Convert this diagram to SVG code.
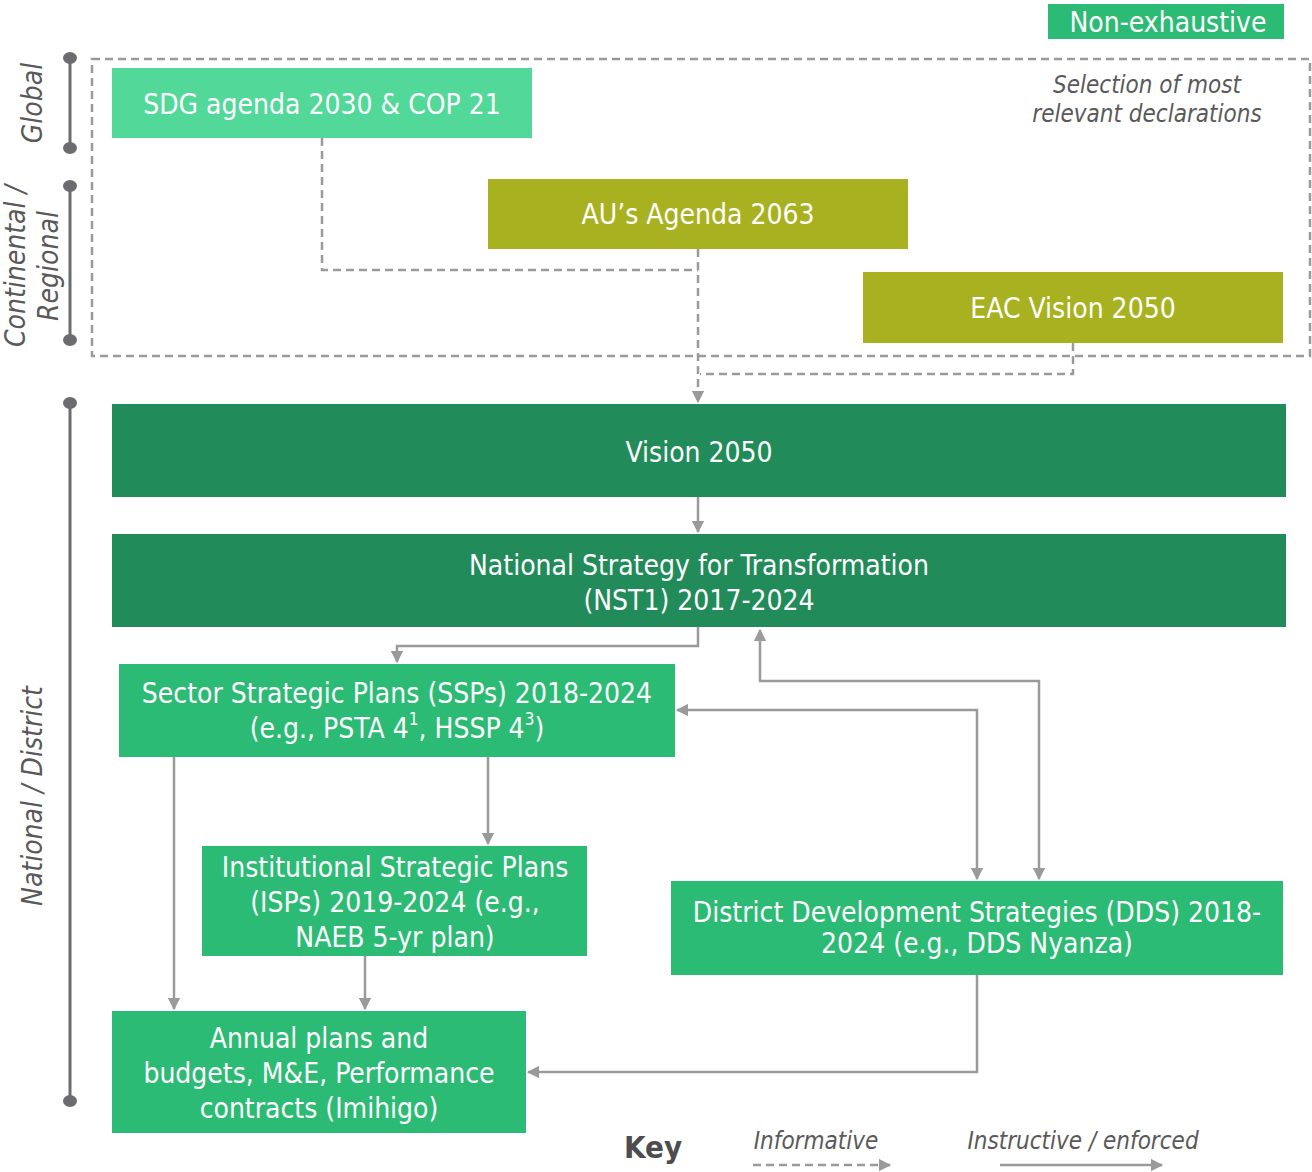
<svg xmlns="http://www.w3.org/2000/svg" width="1312" height="1172" viewBox="0 0 1312 1172">
<style>
.t{font-family:"DejaVu Sans Condensed","Open Sans",sans-serif;fill:#fff;font-size:28px;text-anchor:middle;dominant-baseline:central}
.g{font-family:"DejaVu Sans Condensed","Open Sans",sans-serif;fill:#595959;font-style:italic;text-anchor:middle;dominant-baseline:central}
.ax{stroke:#6b6b70;stroke-width:3;fill:none}
.dot{fill:#6b6b70}
.c{stroke:#9a9a9a;stroke-width:2.5;fill:none}
.d{stroke:#9a9a9a;stroke-width:2.5;fill:none;stroke-dasharray:8 5}
.lg{fill:#52d898}.ol{fill:#a8b220}.dg{fill:#218b59}.mg{fill:#2cbb74}
</style>
<defs>
<marker id="a" viewBox="0 0 10 10" refX="9" refY="5" markerWidth="5" markerHeight="5" orient="auto-start-reverse" markerUnits="strokeWidth">
<path d="M0,0L10,5L0,10z" fill="#9a9a9a"/>
</marker>
</defs>
<g id="axis">
<line class="ax" x1="70" y1="58" x2="70" y2="148"/>
<ellipse class="dot" cx="70" cy="58" rx="7" ry="6"/><ellipse class="dot" cx="70" cy="148" rx="7" ry="6"/>
<line class="ax" x1="70" y1="186" x2="70" y2="340"/>
<ellipse class="dot" cx="70" cy="186" rx="7" ry="6"/><ellipse class="dot" cx="70" cy="340" rx="7" ry="6"/>
<line class="ax" x1="70" y1="403" x2="70" y2="1101"/>
<ellipse class="dot" cx="70" cy="403" rx="7" ry="6"/><ellipse class="dot" cx="70" cy="1101" rx="7" ry="6"/>
<text class="g" font-size="28" transform="translate(32,103) rotate(-90)">Global</text>
<text class="g" font-size="28" transform="translate(15,266) rotate(-90)">Continental /</text>
<text class="g" font-size="28" transform="translate(48,266) rotate(-90)">Regional</text>
<text class="g" font-size="28" transform="translate(32,796) rotate(-90)">National / District</text>
</g>
<g id="scope">
<rect x="92" y="59" width="1218" height="297" class="d"/>
<text class="g" font-size="24" x="1147" y="85">Selection of most</text>
<text class="g" font-size="24" x="1147" y="114">relevant declarations</text>
</g>
<g id="nonexhaustive">
<rect x="1048" y="4" width="236" height="35" class="mg"/>
<text class="t" font-size="29" x="1168" y="22">Non-exhaustive</text>
</g>
<g id="connectors">
<path class="d" d="M322,138V270H698"/>
<path class="d" d="M698,249V402" marker-end="url(#a)"/>
<path class="d" d="M1073,343V374H700"/>
<path class="c" d="M698,497V532" marker-end="url(#a)"/>
<path class="c" d="M698,627V646H397V662" marker-end="url(#a)"/>
<path class="c" d="M760,630V681H1039V879" marker-start="url(#a)" marker-end="url(#a)"/>
<path class="c" d="M677,710H977V879" marker-start="url(#a)" marker-end="url(#a)"/>
<path class="c" d="M174,757V1009" marker-end="url(#a)"/>
<path class="c" d="M488,757V844" marker-end="url(#a)"/>
<path class="c" d="M365,956V1009" marker-end="url(#a)"/>
<path class="c" d="M977,975V1072H528" marker-end="url(#a)"/>
</g>
<g id="sdg"><rect x="112" y="68" width="420" height="70" class="lg"/><text class="t" x="322" y="104">SDG agenda 2030 &amp; COP 21</text></g>
<g id="au"><rect x="488" y="179" width="420" height="70" class="ol"/><text class="t" x="698" y="214">AU’s Agenda 2063</text></g>
<g id="eac"><rect x="863" y="272" width="420" height="71" class="ol"/><text class="t" x="1073" y="308">EAC Vision 2050</text></g>
<g id="vision"><rect x="112" y="404" width="1174" height="93" class="dg"/><text class="t" x="699" y="452">Vision 2050</text></g>
<g id="nst"><rect x="112" y="534" width="1174" height="93" class="dg"/><text class="t" x="699" y="565">National Strategy for Transformation</text><text class="t" x="699" y="600">(NST1) 2017-2024</text></g>
<g id="ssp"><rect x="119" y="664" width="556" height="93" class="mg"/><text class="t" x="397" y="693">Sector Strategic Plans (SSPs) 2018-2024</text><text class="t" x="397" y="728">(e.g., PSTA 4<tspan font-size="17" dy="-9">1</tspan><tspan dy="9">, HSSP 4</tspan><tspan font-size="17" dy="-9">3</tspan><tspan dy="9">)</tspan></text></g>
<g id="isp"><rect x="202" y="846" width="385" height="110" class="mg"/><text class="t" x="395" y="867">Institutional Strategic Plans</text><text class="t" x="395" y="902">(ISPs) 2019-2024 (e.g.,</text><text class="t" x="395" y="937">NAEB 5-yr plan)</text></g>
<g id="dds"><rect x="671" y="881" width="612" height="94" class="mg"/><text class="t" x="977" y="912">District Development Strategies (DDS) 2018-</text><text class="t" x="977" y="943">2024 (e.g., DDS Nyanza)</text></g>
<g id="annual"><rect x="112" y="1011" width="414" height="122" class="mg"/><text class="t" x="319" y="1038">Annual plans and</text><text class="t" x="319" y="1073">budgets, M&amp;E, Performance</text><text class="t" x="319" y="1108">contracts (Imihigo)</text></g>
<g id="key">
<text x="653" y="1147" font-family="DejaVu Sans Condensed,Open Sans,sans-serif" font-weight="bold" font-size="31" fill="#4d4d4d" text-anchor="middle" dominant-baseline="central">Key</text>
<text class="g" font-size="24" x="816" y="1141">Informative</text>
<text class="g" font-size="24" x="1083" y="1141">Instructive / enforced</text>
<path class="d" d="M753,1165H890" marker-end="url(#a)"/>
<path class="c" d="M1000,1165H1162" marker-end="url(#a)"/>
</g>
</svg>
